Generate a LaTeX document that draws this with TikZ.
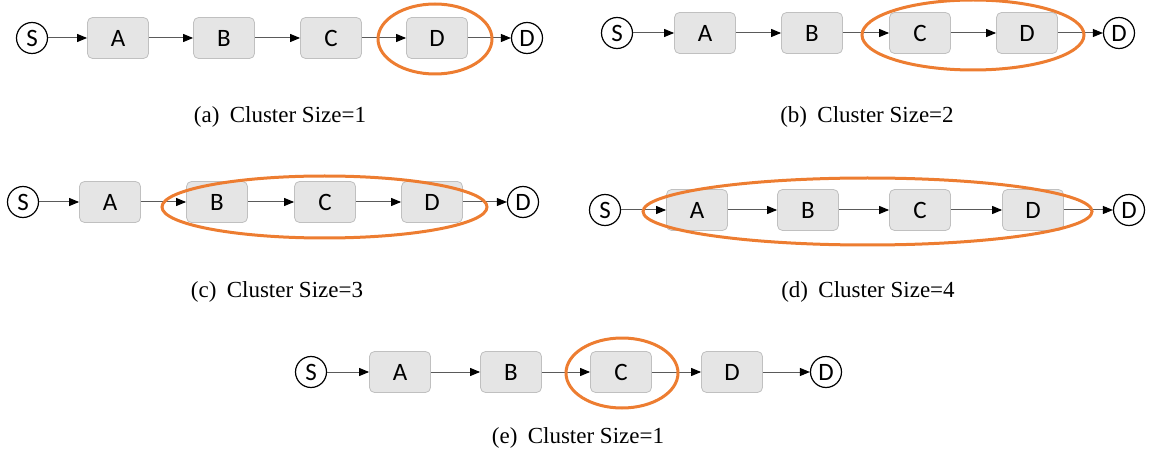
\documentclass[tikz,border=0pt]{standalone}
\usepackage{fontspec}
\setmainfont{Liberation Serif}
\newfontfamily\boxfont{Carlito}
\usetikzlibrary{positioning, arrows.meta}
\definecolor{korange}{RGB}{237,125,49}
\definecolor{kbox}{RGB}{229,229,229}
\definecolor{kedge}{RGB}{192,192,192}
\definecolor{kline}{RGB}{90,90,90}

\tikzset{
    endpt/.style={draw, circle, line width=1.2pt, minimum size=31pt, inner sep=0pt,
        font=\boxfont\fontsize{25}{25}\selectfont},
    hop/.style={draw=kedge, fill=kbox, line width=0.8pt, rounded corners=5pt,
        minimum width=61pt, minimum height=41pt, inner sep=0pt,
        font=\boxfont\fontsize{25}{25}\selectfont},
    link/.style={draw=kline, line width=1pt, -{Triangle[length=10pt, width=8pt, black]}},
    cluster/.style={draw=korange, line width=3pt},
    caption/.style={font=\fontsize{23}{23}\selectfont}
}

\begin{document}
\begin{tikzpicture}[x=1pt, y=-1pt]
        \useasboundingbox (0,0) rectangle (1158,462);

        % chains S -> A -> B -> C -> D -> D, one per row
        \foreach \r/\y/\xs/\xa/\xb/\xc/\xd/\xe in
            {a/38/32/118/224/331/437/527,
             b/33/617/705/812/920/1027/1119,
             c/202/23/110/217/325/432/523,
             d/210/605/697/808/920/1033/1129,
             e/372/311/400/511/621/732/826}
        {
            \node[endpt] (\r-S) at (\xs,\y) {S};
            \node[hop] (\r-A) at (\xa,\y) {A};
            \node[hop] (\r-B) at (\xb,\y) {B};
            \node[hop] (\r-C) at (\xc,\y) {C};
            \node[hop] (\r-D) at (\xd,\y) {D};
            \node[endpt] (\r-T) at (\xe,\y) {D};
            \draw[link] (\r-S) -- (\r-A);
            \draw[link] (\r-A) -- (\r-B);
            \draw[link] (\r-B) -- (\r-C);
            \draw[link] (\r-C) -- (\r-D);
            \draw[link] (\r-D) -- (\r-T);
        }

        % clusters
        \draw[cluster] (435,39) ellipse [x radius=57pt, y radius=35pt];
        \draw[cluster] (973,35) ellipse [x radius=111pt, y radius=35pt];
        \draw[cluster] (324.5,207) ellipse [x radius=162.5pt, y radius=31pt];
        \draw[cluster] (867.5,211.5) ellipse [x radius=224.5pt, y radius=33.5pt];
        \draw[cluster] (622,373) ellipse [x radius=56pt, y radius=35pt];

        % captions
        \node[caption] (cap-a) at (280,117) {(a)\hskip0.45em Cluster Size=1};
        \node[caption] (cap-b) at (867,117) {(b)\hskip0.45em Cluster Size=2};
        \node[caption] (cap-c) at (277,292) {(c)\hskip0.45em Cluster Size=3};
        \node[caption] (cap-d) at (868,292) {(d)\hskip0.45em Cluster Size=4};
        \node[caption] (cap-e) at (578,438) {(e)\hskip0.45em Cluster Size=1};
\end{tikzpicture}
\end{document}
